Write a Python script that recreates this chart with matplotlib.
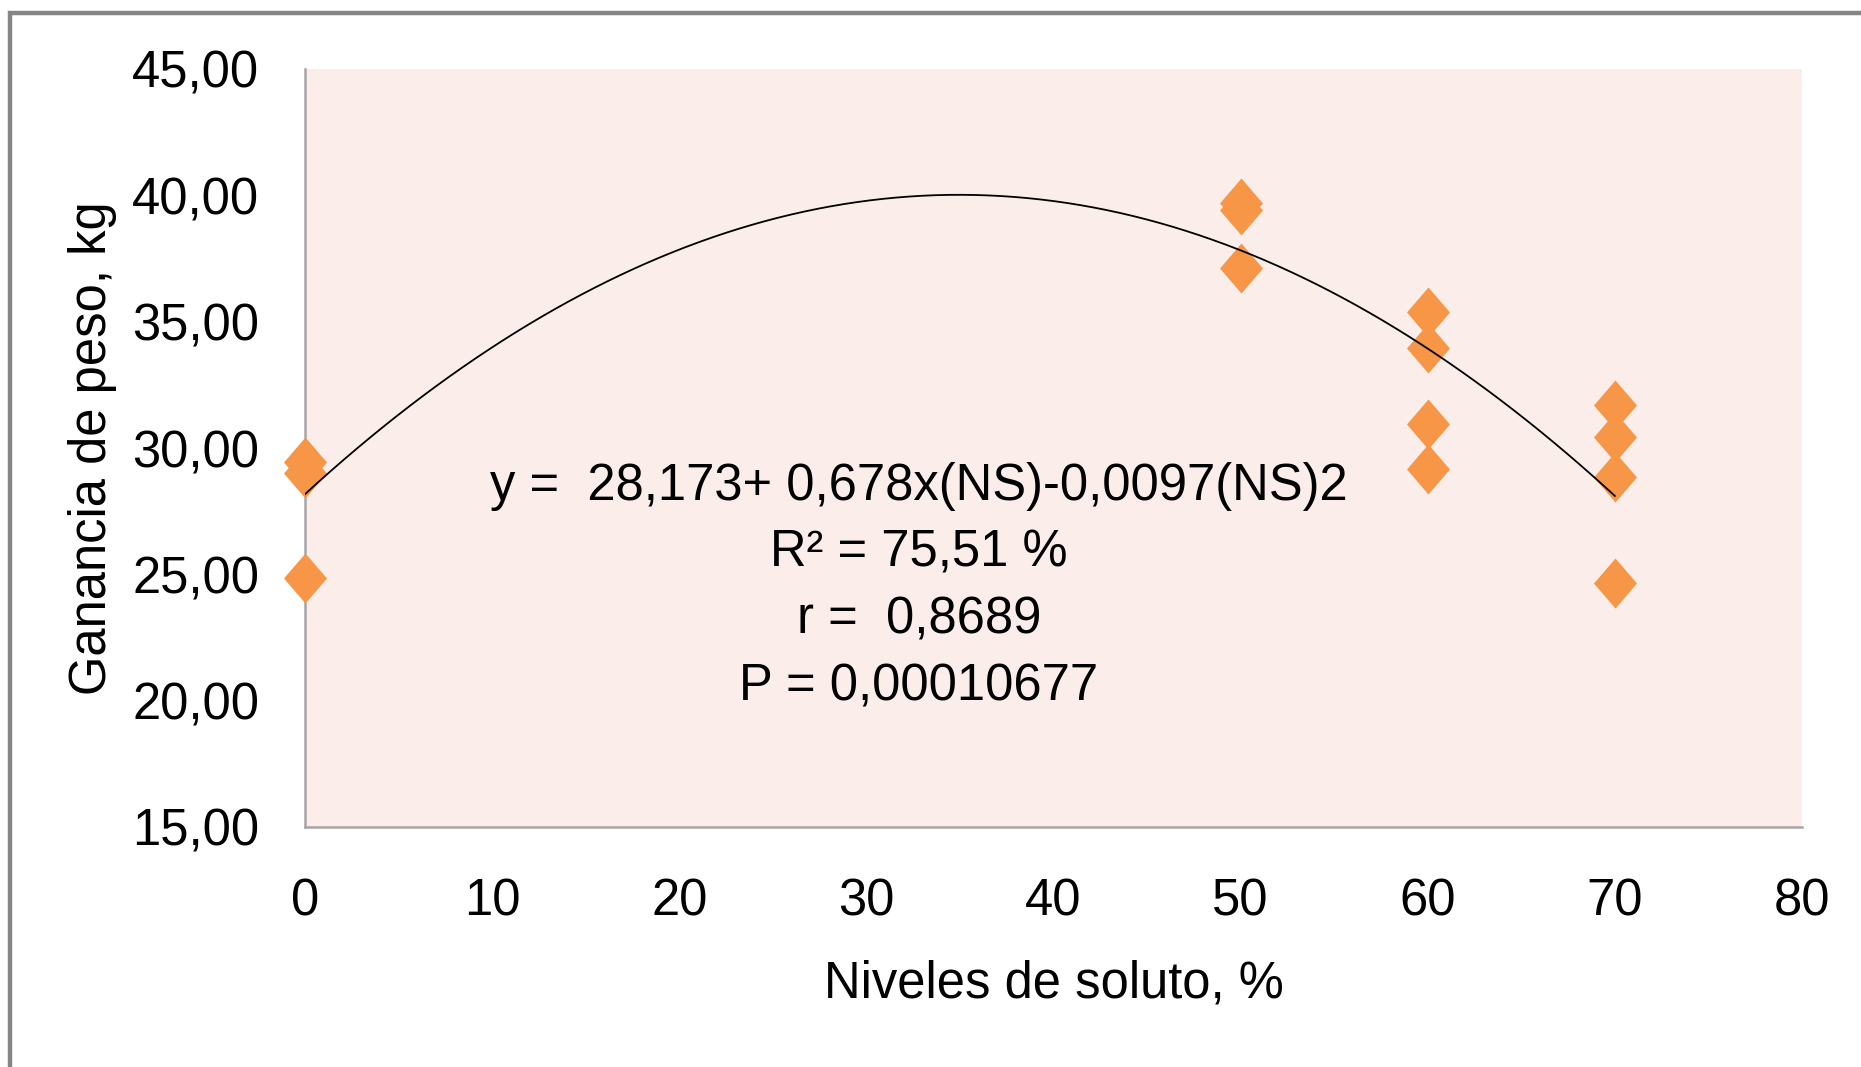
import numpy as np
import matplotlib
matplotlib.use('Agg')
import matplotlib.pyplot as plt
from matplotlib.path import Path
from matplotlib.patches import Rectangle

plt.rcParams['font.family'] = ['Liberation Sans Narrow', 'Liberation Sans', 'DejaVu Sans']

# ---- datos ----
nivel_soluto = [0, 0, 0, 50, 50, 50, 60, 60, 60, 60, 70, 70, 70, 70]
ganancia_peso = [29.46, 29.0, 24.85, 39.69, 39.42, 37.11,
                 35.4, 33.97, 30.94, 29.16, 31.7, 30.45, 28.87, 24.65]

# ecuación de la línea de tendencia (según el texto del gráfico)
coef_tendencia = [28.173, 0.678, -0.0097]   # b0, b1, b2
rango_tendencia = [0, 70]

y_ticks = [15, 20, 25, 30, 35, 40, 45]
x_ticks = [0, 10, 20, 30, 40, 50, 60, 70, 80]

texto_ecuacion = [
    'y =  28,173+ 0,678x(NS)-0,0097(NS)2',
    'R\u00b2 = 75,51 %',
    'r =  0,8689',
    'P = 0,00010677',
]

FS = 36.5
W, H = 1861, 1067
fig = plt.figure(figsize=(W / 100, H / 100), dpi=100)

# marco exterior gris (solo se ven izquierda y arriba)
fig.patches.append(Rectangle((10 / W, -0.1), 1.2, (1 - 12.5 / H) + 0.1,
                             transform=fig.transFigure, fill=False,
                             edgecolor='#858585', linewidth=3.2))

left, top, right, bottom = 305, 69, 1802, 827
ax = fig.add_axes([left / W, 1 - bottom / H, (right - left) / W, (bottom - top) / H])
ax.set_facecolor('#FBEEEA')

# marcador rombo (un poco más alto que ancho)
rombo = Path([(0, 1), (0.86, 0), (0, -1), (-0.86, 0), (0, 1)],
             [Path.MOVETO, Path.LINETO, Path.LINETO, Path.LINETO, Path.CLOSEPOLY])
ax.plot(nivel_soluto, ganancia_peso, linestyle='none', marker=rombo,
        markersize=36, color='#F79646', markeredgewidth=0, zorder=3, clip_on=False)

xs = np.linspace(rango_tendencia[0], rango_tendencia[1], 300)
ax.plot(xs, np.polyval(coef_tendencia[::-1], xs), color='black', linewidth=1.3, zorder=4)

ax.set_xlim(0, 80)
ax.set_ylim(15, 45)
ax.set_xticks(x_ticks)
ax.set_xticklabels([str(v) for v in x_ticks])
ax.set_yticks(y_ticks)
ax.set_yticklabels([f'{v:.2f}'.replace('.', ',') for v in y_ticks])
ax.tick_params(axis='both', length=0, labelsize=FS)
ax.tick_params(axis='y', pad=33)
ax.tick_params(axis='x', pad=36)

for s in ['top', 'right']:
    ax.spines[s].set_visible(False)
for s in ['left', 'bottom']:
    ax.spines[s].set_color('#A6A6A6')
    ax.spines[s].set_linewidth(1.8)

# texto de la ecuación
cx = (919 - left) / (right - left)
for i, linea in enumerate(texto_ecuacion):
    yb = 1 - (500 + i * 66.7 - top) / (bottom - top)
    ax.text(cx, yb, linea, transform=ax.transAxes, ha='center', va='baseline',
            fontsize=FS, zorder=5)

fig.text(1054 / W, 1 - 997 / H, 'Niveles de soluto, %', ha='center', va='baseline', fontsize=FS)
fig.text(93 / W, 1 - 448 / H, 'Ganancia de peso, kg', ha='center', va='center',
         rotation=90, fontsize=FS)

fig.savefig('out.png', dpi=100)
